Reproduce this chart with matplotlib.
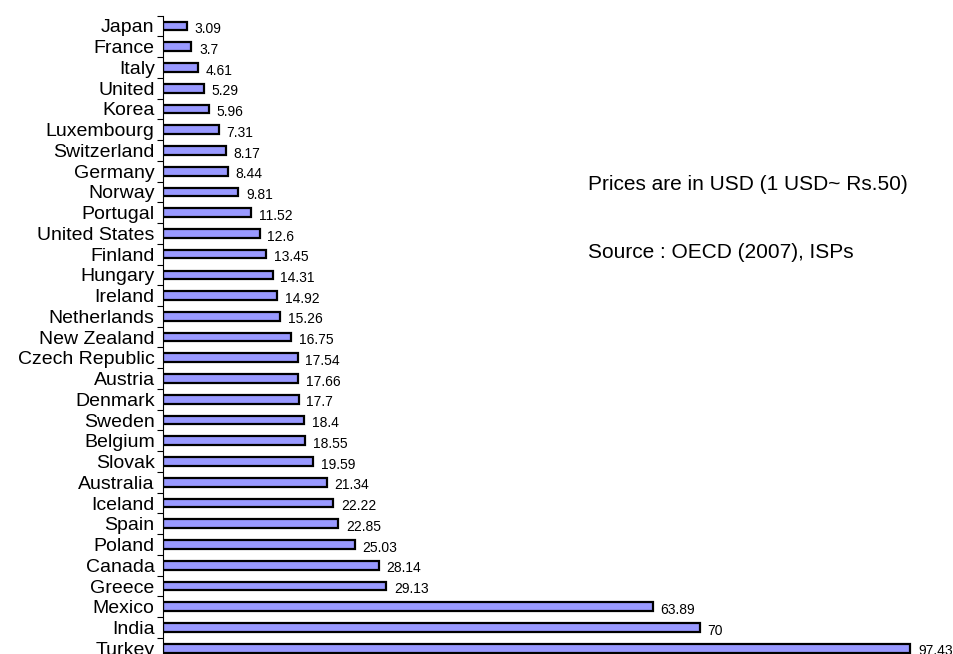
import numpy as np
import matplotlib.pyplot as plt

plt.rcParams['font.family'] = ['Liberation Sans', 'DejaVu Sans']

# Broadband price per country (USD), ordered cheapest first
countries = ['Japan', 'France', 'Italy', 'United', 'Korea', 'Luxembourg',
             'Switzerland', 'Germany', 'Norway', 'Portugal', 'United States',
             'Finland', 'Hungary', 'Ireland', 'Netherlands', 'New Zealand',
             'Czech Republic', 'Austria', 'Denmark', 'Sweden', 'Belgium',
             'Slovak', 'Australia', 'Iceland', 'Spain', 'Poland', 'Canada',
             'Greece', 'Mexico', 'India', 'Turkey']
prices = [3.09, 3.7, 4.61, 5.29, 5.96, 7.31, 8.17, 8.44, 9.81, 11.52, 12.6,
          13.45, 14.31, 14.92, 15.26, 16.75, 17.54, 17.66, 17.7, 18.4, 18.55,
          19.59, 21.34, 22.22, 22.85, 25.03, 28.14, 29.13, 63.89, 70, 97.43]
value_labels = ['3.09', '3.7', '4.61', '5.29', '5.96', '7.31', '8.17', '8.44',
                '9.81', '11.52', '12.6', '13.45', '14.31', '14.92', '15.26',
                '16.75', '17.54', '17.66', '17.7', '18.4', '18.55', '19.59',
                '21.34', '22.22', '22.85', '25.03', '28.14', '29.13', '63.89',
                '70', '97.43']

W, H = 954, 654
fig = plt.figure(figsize=(W / 100, H / 100), dpi=100)
# axes runs slightly past the bottom edge so the last bar is clipped
left, top, right, bottom = 163, 15.6, 940, 658.6
ax = fig.add_axes([left / W, 1 - bottom / H, (right - left) / W, (bottom - top) / H])

y = np.arange(len(countries))
ax.barh(y, prices, height=0.42, color='#9999FF', edgecolor='black', linewidth=1.6)

for yi, v, lab in zip(y, prices, value_labels):
    ax.text(v + 1.0, yi + 0.15, lab, va='center', ha='left', fontsize=10)

ax.set_ylim(len(countries) - 0.5, -0.5)
ax.set_xlim(0, (right - left) / 7.67)

ax.set_yticks(y)
ax.set_yticklabels(countries, fontsize=14)
ax.tick_params(axis='y', which='major', length=0, pad=6)
ax.set_yticks(np.arange(-0.5, len(countries), 1), minor=True)
ax.tick_params(axis='y', which='minor', length=4, width=0.8, direction='out')

ax.set_xticks([])
for s in ['top', 'right', 'bottom']:
    ax.spines[s].set_visible(False)
ax.spines['left'].set_linewidth(0.8)

fig.text(588 / W, 1 - 185 / H, 'Prices are in USD (1 USD~ Rs.50)', fontsize=15, va='center')
fig.text(588 / W, 1 - 253 / H, 'Source : OECD (2007), ISPs', fontsize=15, va='center')

fig.savefig('out.png', dpi=100)
